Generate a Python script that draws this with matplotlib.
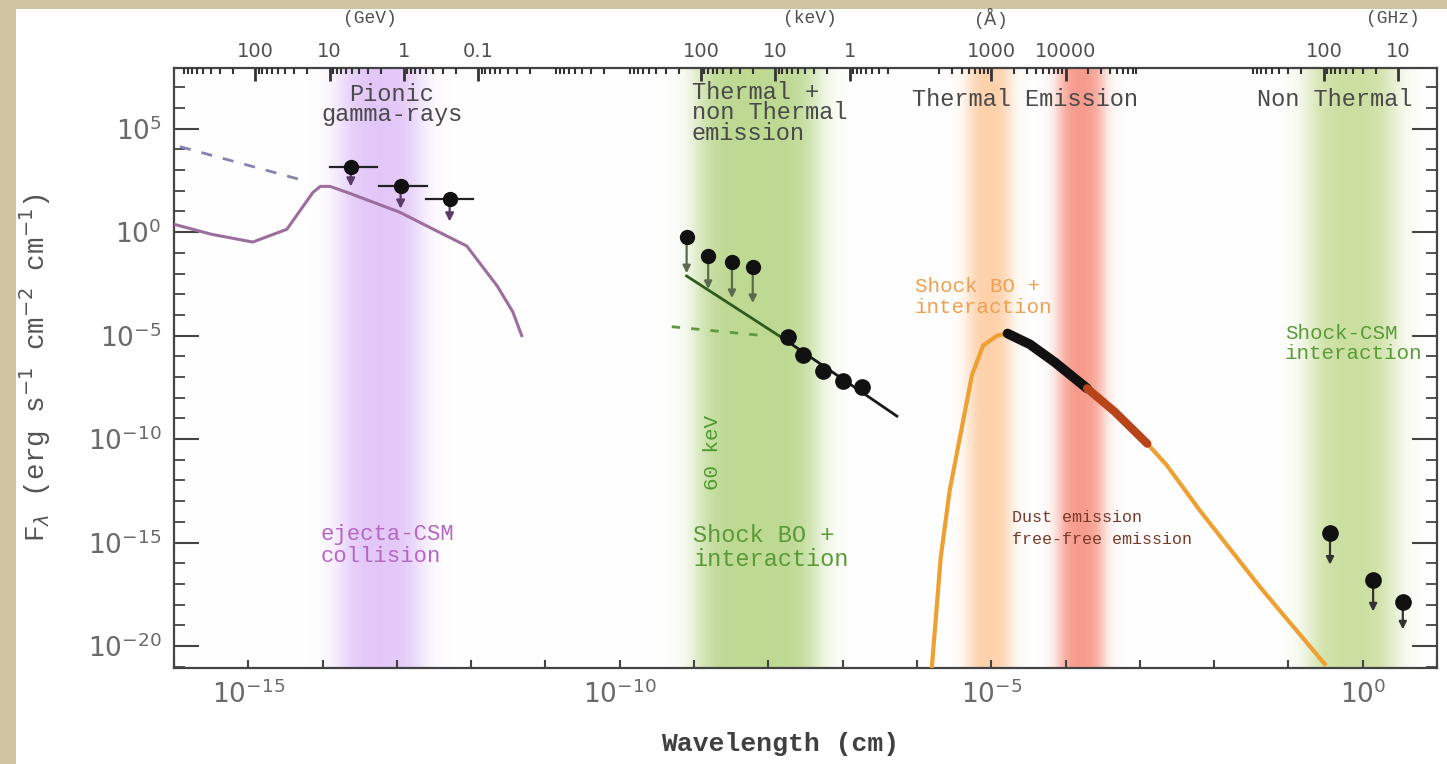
import numpy as np
import matplotlib.pyplot as plt
from matplotlib.ticker import FixedLocator, FixedFormatter, NullFormatter
from matplotlib.patches import Rectangle
from matplotlib.transforms import blended_transform_factory

# all values are log10: wavelength in cm, F_lambda in erg s^-1 cm^-2 cm^-1

# pionic gamma-ray model (purple curve)
pion_logx = [-16.0, -15.5, -14.94, -14.48, -14.13, -14.03, -13.90, -13.67,
             -12.96, -12.51, -12.06, -11.65, -11.44, -11.32]
pion_logy = [0.38, -0.10, -0.48, 0.14, 1.92, 2.21, 2.21, 1.92,
             0.96, 0.14, -0.67, -2.60, -3.85, -5.00]
# extrapolated GeV spectrum (dashed)
pion_dash_logx = [-15.92, -14.21]
pion_dash_logy = [4.13, 2.45]

# GeV upper limits
gamma_logx = [-13.62, -12.95, -12.29]
gamma_logx_lo = [-13.90, -13.24, -12.61]
gamma_logx_hi = [-13.27, -12.59, -11.98]
gamma_logy = [3.13, 2.21, 1.59]
gamma_tip_logy = [2.07, 1.00, 0.38]

# hard X-ray upper limits
xul_logx = [-9.10, -8.81, -8.49, -8.21]
xul_logy = [-0.24, -1.15, -1.44, -1.68]
xul_tip_logy = [-2.12, -2.88, -3.32, -3.56]
# X-ray detections
xdet_logx = [-7.74, -7.53, -7.27, -7.00, -6.74]
xdet_logy = [-5.05, -5.96, -6.73, -7.21, -7.50]
# X-ray power law
xfit_logx = [-9.10, -7.80, -6.27]
xfit_logy = [-2.12, -5.14, -8.89]
xdash_logx = [-9.30, -8.07]
xdash_logy = [-4.57, -5.00]

# thermal (shock break-out) spectrum
bb_logx = [-5.81, -5.68, -5.56, -5.39, -5.26, -5.11, -4.92, -4.79, -4.65,
           -4.34, -3.98, -3.54, -3.09, -2.64, -2.19, -1.38, -0.51]
bb_logy = [-21.5, -15.72, -12.50, -9.33, -6.92, -5.48, -5.00, -4.90, -5.00,
           -5.77, -6.73, -8.03, -9.47, -11.25, -13.46, -17.16, -20.87]
# UV/optical data on top of it
uvo_logx = [-4.78, -4.48, -4.14, -3.71]
uvo_logy = [-4.90, -5.42, -6.30, -7.55]
ir_logx = [-3.71, -3.34, -2.90]
ir_logy = [-7.55, -8.67, -10.22]

# radio upper limits
radio_logx = [-0.44, 0.14, 0.54]
radio_logy = [-14.52, -16.83, -17.88]
radio_tip_logy = [-16.20, -18.46, -19.33]

# top axis energies / wavelengths / frequencies
gev_ticks = [100, 10, 1, 0.1]
kev_ticks = [100, 10, 1]
ang_ticks = [1000, 10000]
ghz_ticks = [100, 10]

# shaded regions: (lo, hi, colour)
bands = [(-13.75, -12.70, '#e2c6f8'),
         (-8.95, -7.35, '#bdd992'),
         (-5.30, -4.75, '#fdd0a8'),
         (-4.08, -3.50, '#f79a8a'),
         (-0.70, 0.42, '#cbdfa0')]

HC = 1.23984e-4   # eV cm
C = 2.99792e10    # cm/s

fig = plt.figure(figsize=(14.47, 7.64), dpi=100)
fig.patch.set_facecolor('#cfc3a0')
fig.add_artist(Rectangle((16 / 1447, 0), 1, (764 - 9) / 764, transform=fig.transFigure,
                         facecolor='white', edgecolor='none', zorder=-5))

pos = [174 / 1447, (764 - 668) / 764, (1437 - 174) / 1447, 600 / 764]
XMIN, XMAX = -16.0, 1.0
YMIN, YMAX = -21.06, 7.93

# gradient bands drawn on a plain axes underneath
axb = fig.add_axes(pos)
cols = np.linspace(XMIN, XMAX, 2000)
rgb = np.ones((1, cols.size, 3))
for lo, hi, col in bands:
    c = np.array(plt.matplotlib.colors.to_rgb(col))
    s = 0.22 if hi - lo > 0.8 else 0.13
    a = 0.5 * (np.tanh((cols - lo) / s) - np.tanh((cols - hi) / s))
    rgb[0] = rgb[0] * (1 - a[:, None]) + c * a[:, None]
axb.imshow(rgb, extent=(XMIN, XMAX, 0, 1), aspect='auto', interpolation='bilinear')
axb.set_xlim(XMIN, XMAX)
axb.axis('off')

ax = fig.add_axes(pos)
ax.patch.set_alpha(0)
ax.set_xscale('log')
ax.set_yscale('log')
ax.set_xlim(10 ** XMIN, 10 ** XMAX)
ax.set_ylim(10 ** YMIN, 10 ** YMAX)

p = lambda v: 10 ** np.asarray(v, dtype=float)

# gamma-ray part
ax.plot(p(pion_logx), p(pion_logy), color='#9c6e9e', lw=2.2, zorder=3)
ax.plot(p(pion_dash_logx), p(pion_dash_logy), color='#8484b4', lw=2, ls=(0, (4, 4)), zorder=3)
for x, lo, hi, y, tip in zip(gamma_logx, gamma_logx_lo, gamma_logx_hi, gamma_logy, gamma_tip_logy):
    ax.plot([10 ** lo, 10 ** hi], [10 ** y, 10 ** y], color='#222222', lw=1.6, zorder=4)
    ax.annotate('', xy=(10 ** x, 10 ** tip), xytext=(10 ** x, 10 ** y),
                arrowprops=dict(arrowstyle='-|>', color='#5a3a6a', lw=1.6, mutation_scale=12), zorder=4)
ax.plot(p(gamma_logx), p(gamma_logy), 'o', color='#111111', ms=10, zorder=5)

# X-ray part
ax.plot(p(xfit_logx[:2]), p(xfit_logy[:2]), color='#2f5a1e', lw=2, zorder=3)
ax.plot(p(xfit_logx[1:]), p(xfit_logy[1:]), color='#1a1a1a', lw=2, zorder=3)
ax.plot(p(xdash_logx), p(xdash_logy), color='#5f9a40', lw=2, ls=(0, (3, 4)), zorder=3)
for x, y, tip in zip(xul_logx, xul_logy, xul_tip_logy):
    ax.annotate('', xy=(10 ** x, 10 ** tip), xytext=(10 ** x, 10 ** y),
                arrowprops=dict(arrowstyle='-|>', color='#5c6a50', lw=1.6, mutation_scale=11), zorder=4)
ax.plot(p(xul_logx), p(xul_logy), 'o', color='#111111', ms=10, zorder=5)
ax.plot(p(xdet_logx), p(xdet_logy), 'o', color='#111111', ms=11, zorder=5)

# thermal part
ax.plot(p(bb_logx), p(bb_logy), color='#eea032', lw=3, zorder=3)
ax.plot(p(uvo_logx), p(uvo_logy), color='#111111', lw=7, solid_capstyle='round', zorder=4)
ax.plot(p(ir_logx), p(ir_logy), color='#b8441a', lw=6, solid_capstyle='round', zorder=4)

# radio part
for x, y, tip in zip(radio_logx, radio_logy, radio_tip_logy):
    ax.annotate('', xy=(10 ** x, 10 ** tip), xytext=(10 ** x, 10 ** y),
                arrowprops=dict(arrowstyle='-|>', color='#333333', lw=1.6, mutation_scale=11), zorder=4)
ax.plot(p(radio_logx), p(radio_logy), 'o', color='#111111', ms=11, zorder=5)

# axes styling
mono = 'Liberation Mono'
for s in ax.spines.values():
    s.set_color('#444444')
    s.set_linewidth(1.6)

ax.xaxis.set_major_locator(FixedLocator([1e-15, 1e-10, 1e-5, 1e0]))
ax.xaxis.set_major_formatter(FixedFormatter([r'$10^{-15}$', r'$10^{-10}$', r'$10^{-5}$', r'$10^{0}$']))
ax.xaxis.set_minor_locator(FixedLocator([10.0 ** k for k in range(-16, 2)]))
ax.xaxis.set_minor_formatter(NullFormatter())
ax.yaxis.set_major_locator(FixedLocator([1e-20, 1e-15, 1e-10, 1e-5, 1e0, 1e5]))
ax.yaxis.set_major_formatter(FixedFormatter([r'$10^{-20}$', r'$10^{-15}$', r'$10^{-10}$',
                                             r'$10^{-5}$', r'$10^{0}$', r'$10^{5}$']))
ax.yaxis.set_minor_locator(FixedLocator([10.0 ** k for k in range(-21, 8)]))
ax.yaxis.set_minor_formatter(NullFormatter())

ax.tick_params(axis='x', which='both', direction='in', bottom=True, top=False,
               length=6, width=1.5, color='#444444', labelsize=19, labelcolor='#6a6a6a', pad=9)
ax.tick_params(axis='y', which='major', direction='in', left=True, right=True,
               length=18, width=1.5, color='#444444', labelsize=19, labelcolor='#6a6a6a', pad=9)
ax.tick_params(axis='y', which='minor', direction='in', left=True, right=True,
               length=8, width=1.3, color='#444444')

ax.set_xlabel('Wavelength (cm)', family=mono, fontsize=19, fontweight='bold', color='#404040')
ax.xaxis.set_label_coords(0.48, -0.107)
ax.set_ylabel(r'F$_\lambda$ (erg s$^{-1}$ cm$^{-2}$ cm$^{-1}$)', family=mono, fontsize=20, color='#555555')
ax.yaxis.set_label_coords(-0.096, 0.5)

# top axis: photon energy, wavelength in Angstrom, frequency
axt = ax.twiny()
axt.set_xscale('log')
axt.set_xlim(ax.get_xlim())
top_pos = ([HC / (e * 1e9) for e in gev_ticks] + [HC / (e * 1e3) for e in kev_ticks]
           + [a * 1e-8 for a in ang_ticks] + [C / (f * 1e9) for f in ghz_ticks])
top_lab = [f'{e:g}' for e in gev_ticks] + [f'{e:g}' for e in kev_ticks] \
    + [f'{a:g}' for a in ang_ticks] + [f'{f:g}' for f in ghz_ticks]
axt.xaxis.set_major_locator(FixedLocator(top_pos))
axt.xaxis.set_major_formatter(FixedFormatter(top_lab))
minor = []
for k in range(2, 14):
    for m in range(2, 10):
        lam = HC / (m * 10.0 ** k)
        if 1e-16 < lam < 5e-7:
            minor.append(lam)
for k in range(2, 5):
    for m in range(2, 10):
        minor.append(m * 10.0 ** k * 1e-8)
for k in range(1, 3):
    for m in range(2, 10):
        minor.append(C / (m * 10.0 ** k * 1e9))
axt.xaxis.set_minor_locator(FixedLocator(minor))
axt.xaxis.set_minor_formatter(NullFormatter())
axt.tick_params(axis='x', which='major', direction='in', length=9, width=2,
                color='#333333', labelsize=14, labelcolor='#505050', pad=5)
axt.tick_params(axis='x', which='minor', direction='in', length=4, width=1.5, color='#333333')
for s in axt.spines.values():
    s.set_visible(False)

tr = blended_transform_factory(ax.transData, ax.transAxes)
for lx, lab in zip([-13.36, -7.44, -5.02, 0.41], ['(GeV)', '(keV)', r'($\mathrm{\AA}$)', '(GHz)']):
    ax.text(10 ** lx, 1.083, lab, transform=tr, ha='center', va='center',
            fontsize=13, color='#505050', family=mono)

# region labels
hdr = dict(family=mono, fontsize=17, color='#4a4a4a', linespacing=0.85, zorder=6)
ax.text(10 ** -13.07, 10 ** 6.15, 'Pionic\ngamma-rays', ha='center', va='center', **hdr)
ax.text(10 ** -9.03, 10 ** 5.77, 'Thermal +\nnon Thermal\nemission', ha='left', va='center', **hdr)
ax.text(10 ** -6.07, 10 ** 6.39, 'Thermal Emission', ha='left', va='center', **hdr)
ax.text(10 ** -1.42, 10 ** 6.39, 'Non Thermal', ha='left', va='center', clip_on=False, **hdr)

ax.text(10 ** -14.03, 10 ** -15.14, 'ejecta-CSM\ncollision', ha='left', va='center',
        family=mono, fontsize=16, color='#b468c4', linespacing=1.1)
ax.text(10 ** -9.01, 10 ** -15.24, 'Shock BO +\ninteraction', ha='left', va='center',
        family=mono, fontsize=17, color='#5a9a38', linespacing=1.05)
ax.text(10 ** -8.75, 10 ** -10.67, '60 keV', ha='center', va='center', rotation=90,
        family=mono, fontsize=15, color='#4f9a30')
ax.text(10 ** -6.03, 10 ** -3.13, 'Shock BO +\ninteraction', ha='left', va='center',
        family=mono, fontsize=15, color='#eea050', linespacing=1.1)
ax.text(10 ** -1.05, 10 ** -5.38, 'Shock-CSM\ninteraction', ha='left', va='center',
        family=mono, fontsize=15, color='#5a9a38', linespacing=1.1, clip_on=False)
ax.text(10 ** -4.72, 10 ** -14.33, 'Dust emission\nfree-free emission', ha='left', va='center',
        family=mono, fontsize=12, color='#7a3a2a', linespacing=1.6, zorder=6)

fig.savefig('out.png', dpi=100, facecolor=fig.get_facecolor())
